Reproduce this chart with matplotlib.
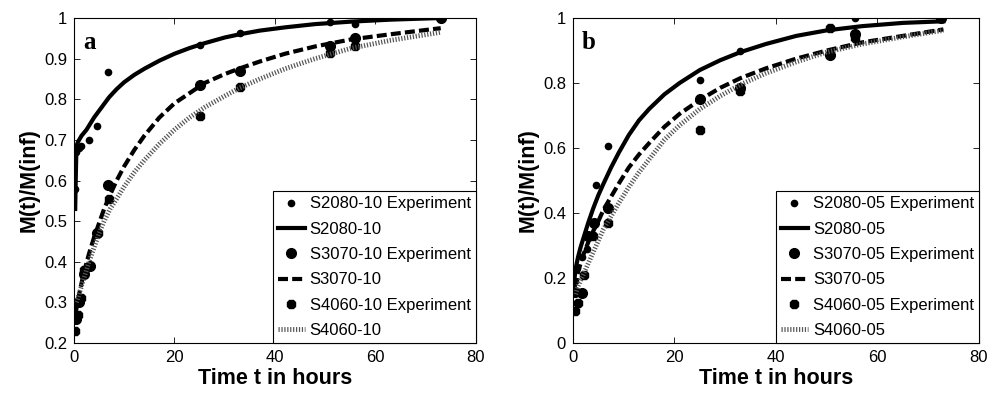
import matplotlib
matplotlib.use("Agg")
import matplotlib.pyplot as plt

plt.rcParams['font.family'] = ['Liberation Sans', 'DejaVu Sans']

# ---------------- Panel a data ----------------
a_exp1_t = [0.2, 0.5, 1.0, 1.5, 3.0, 4.5, 6.8, 25, 33, 51, 56, 73]
a_exp1_v = [0.58, 0.67, 0.68, 0.685, 0.70, 0.733, 0.866, 0.934, 0.963, 0.99, 0.985, 1.0]
a_fit1_t = [0.25, 0.35, 0.5, 0.8, 1.5, 2.5, 4, 5.5, 7, 8.5, 10, 12, 14, 17, 20, 23, 26,
            30, 33, 37, 42, 48, 55, 63, 73]
a_fit1_v = [0.53, 0.60, 0.685, 0.695, 0.71, 0.725, 0.755, 0.78, 0.805, 0.825, 0.842, 0.86,
            0.875, 0.895, 0.912, 0.926, 0.938, 0.952, 0.96, 0.969, 0.977, 0.985, 0.991,
            0.996, 1.0]

a_exp2_t = [0.4, 1.0, 2.0, 3.2, 4.5, 6.8, 25, 33, 51, 56, 73]
a_exp2_v = [0.26, 0.30, 0.37, 0.39, 0.47, 0.59, 0.835, 0.87, 0.93, 0.95, 1.0]
a_fit2_t = [0.3, 0.7, 1.2, 2, 3, 4, 5, 6, 7.2, 8.5, 10, 12, 14, 17, 20, 23, 26, 30, 33,
            37, 42, 48, 55, 63, 73]
a_fit2_v = [0.27, 0.30, 0.33, 0.375, 0.42, 0.46, 0.495, 0.53, 0.565, 0.60, 0.635, 0.675,
            0.71, 0.755, 0.79, 0.815, 0.84, 0.862, 0.876, 0.893, 0.912, 0.93, 0.947,
            0.96, 0.975]

a_exp3_t = [0.3, 0.8, 1.5, 2.0, 4.7, 7.0, 25, 33, 51, 56, 73]
a_exp3_v = [0.23, 0.27, 0.31, 0.38, 0.47, 0.555, 0.76, 0.83, 0.915, 0.93, 1.0]
a_fit3_t = [0.5, 1, 2, 3, 4, 5, 6, 7.2, 8.5, 10, 12, 14, 17, 20, 23, 26, 30, 33, 37, 42,
            48, 55, 63, 73]
a_fit3_v = [0.30, 0.32, 0.36, 0.40, 0.435, 0.47, 0.50, 0.53, 0.555, 0.585, 0.62, 0.65,
            0.69, 0.725, 0.755, 0.78, 0.808, 0.828, 0.85, 0.875, 0.90, 0.925, 0.945, 0.965]

a_labels = ['S2080-10 Experiment', 'S2080-10', 'S3070-10 Experiment',
            'S3070-10', 'S4060-10 Experiment', 'S4060-10']

# ---------------- Panel b data ----------------
b_exp1_t = [0.3, 0.7, 1.7, 2.7, 4.5, 6.9, 25, 33, 50.7, 55.5, 72.6]
b_exp1_v = [0.19, 0.23, 0.265, 0.29, 0.486, 0.607, 0.81, 0.90, 0.97, 1.0, 1.0]
b_fit1_t = [0.1, 0.3, 0.6, 1, 1.5, 2, 3, 4, 5, 6, 7.5, 9, 11, 13, 15, 18, 21, 25, 29,
            33, 38, 44, 50, 57, 65, 73]
b_fit1_v = [0.17, 0.20, 0.235, 0.265, 0.295, 0.32, 0.37, 0.415, 0.455, 0.49, 0.54, 0.585,
            0.64, 0.685, 0.72, 0.765, 0.80, 0.84, 0.87, 0.895, 0.92, 0.945, 0.962, 0.975,
            0.985, 0.99]

b_exp2_t = [0.4, 1.7, 3.0, 4.2, 6.9, 25, 33, 50.7, 55.5, 72.6]
b_exp2_v = [0.157, 0.153, 0.33, 0.37, 0.415, 0.75, 0.785, 0.885, 0.95, 1.0]
b_fit2_t = [0.3, 0.7, 1.2, 2, 3, 4, 5, 6, 7.5, 9, 11, 13, 15, 18, 21, 25, 29, 33, 38, 44,
            50, 57, 65, 73]
b_fit2_v = [0.17, 0.20, 0.23, 0.27, 0.31, 0.345, 0.375, 0.41, 0.45, 0.49, 0.54, 0.58,
            0.615, 0.665, 0.705, 0.748, 0.785, 0.815, 0.845, 0.875, 0.90, 0.925, 0.945,
            0.965]

b_exp3_t = [0.3, 1.0, 2.2, 4.0, 6.9, 25, 33, 50.7, 55.5, 72.6]
b_exp3_v = [0.10, 0.122, 0.21, 0.33, 0.37, 0.655, 0.775, 0.97, 0.94, 1.0]
b_fit3_t = [0.5, 1, 2, 3, 4, 5, 6, 7.5, 9, 11, 13, 15, 18, 21, 25, 29, 33, 38, 44, 50,
            57, 65, 73]
b_fit3_v = [0.15, 0.175, 0.21, 0.245, 0.28, 0.315, 0.35, 0.39, 0.43, 0.48, 0.525, 0.565,
            0.625, 0.67, 0.72, 0.76, 0.795, 0.83, 0.865, 0.895, 0.92, 0.942, 0.962]

b_labels = ['S2080-05 Experiment', 'S2080-05', 'S3070-05 Experiment',
            'S3070-05', 'S4060-05 Experiment', 'S4060-05']

x_ticks = [0, 20, 40, 60, 80]
a_yticks = [0.2, 0.3, 0.4, 0.5, 0.6, 0.7, 0.8, 0.9, 1.0]
a_yticklabels = ['0.2', '0.3', '0.4', '0.5', '0.6', '0.7', '0.8', '0.9', '1']
b_yticks = [0, 0.2, 0.4, 0.6, 0.8, 1.0]
b_yticklabels = ['0', '0.2', '0.4', '0.6', '0.8', '1']

fig = plt.figure(figsize=(9.9, 3.96), dpi=100)
axa = fig.add_axes([0.0747, 0.1338, 0.406, 0.8207])
axb = fig.add_axes([0.5788, 0.1338, 0.410, 0.8207])


def draw(ax, exps, fits, labels, yt, ytl, ylim, letter):
    (e1t, e1v), (e2t, e2v), (e3t, e3v) = exps
    (f1t, f1v), (f2t, f2v), (f3t, f3v) = fits
    ax.plot(e1t, e1v, linestyle='none', marker='o', ms=4.5, color='black', label=labels[0])
    ax.plot(f1t, f1v, '-', lw=3, color='black', label=labels[1])
    ax.plot(e2t, e2v, linestyle='none', marker='o', ms=7, color='black', label=labels[2])
    ax.plot(f2t, f2v, lw=3, color='black', dashes=(2.4, 1.0), label=labels[3])
    ax.plot(e3t, e3v, linestyle='none', marker='8', ms=7, color='black', label=labels[4])
    ax.plot(f3t, f3v, lw=3.5, color='#555555', dashes=(0.25, 0.35), label=labels[5])
    ax.set_xlim(0, 80)
    ax.set_ylim(*ylim)
    ax.set_xticks(x_ticks)
    ax.set_yticks(yt)
    ax.set_yticklabels(ytl)
    ax.tick_params(direction='in', top=True, right=True, length=4, width=0.6,
                   labelsize=12, pad=5)
    for s in ax.spines.values():
        s.set_linewidth(0.8)
    ax.set_xlabel('Time t in hours', fontsize=15.5, fontweight='bold', labelpad=2)
    ax.set_ylabel('M(t)/M(inf)', fontsize=15.5, fontweight='bold', labelpad=3)
    ax.text(0.022, 0.96, letter, transform=ax.transAxes, fontsize=18,
            fontweight='bold', family='Liberation Serif', va='top', ha='left')
    leg = ax.legend(loc='lower right', fontsize=12, frameon=True, fancybox=False,
                    edgecolor='black', framealpha=1, borderaxespad=0.0,
                    handlelength=1.6, handletextpad=0.3, labelspacing=0.62,
                    borderpad=0.3)
    leg.get_frame().set_linewidth(0.8)


draw(axa,
     [(a_exp1_t, a_exp1_v), (a_exp2_t, a_exp2_v), (a_exp3_t, a_exp3_v)],
     [(a_fit1_t, a_fit1_v), (a_fit2_t, a_fit2_v), (a_fit3_t, a_fit3_v)],
     a_labels, a_yticks, a_yticklabels, (0.2, 1.0), 'a')
draw(axb,
     [(b_exp1_t, b_exp1_v), (b_exp2_t, b_exp2_v), (b_exp3_t, b_exp3_v)],
     [(b_fit1_t, b_fit1_v), (b_fit2_t, b_fit2_v), (b_fit3_t, b_fit3_v)],
     b_labels, b_yticks, b_yticklabels, (0.0, 1.0), 'b')

fig.savefig('out.png', dpi=100)
